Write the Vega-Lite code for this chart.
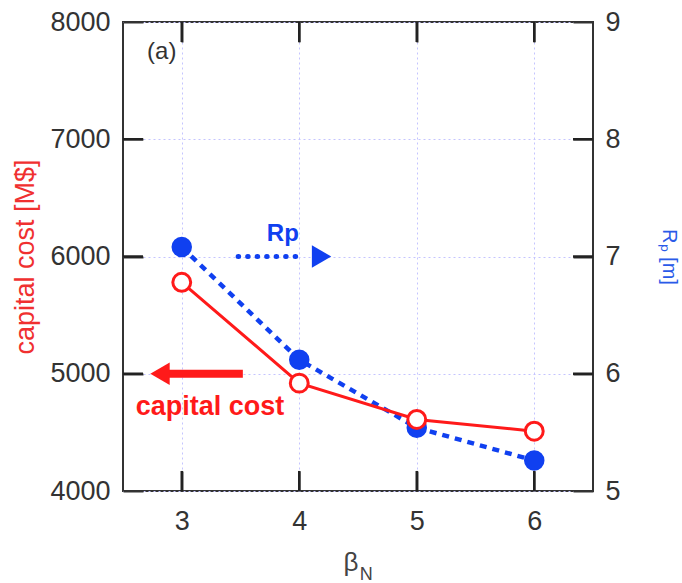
{
  "$schema": "https://vega.github.io/schema/vega-lite/v6.json",
  "width": 470,
  "height": 469,
  "autosize": {"type": "none"},
  "padding": {"left": 123, "top": 22, "right": 89, "bottom": 92},
  "background": "white",
  "data": {"values": [{}]},
  "config": {
    "font": "Liberation Sans",
    "view": {"stroke": "#333", "strokeWidth": 2},
    "axis": {
      "domain": false,
      "labelFont": "Liberation Sans",
      "labelFontSize": 27,
      "labelColor": "#333",
      "tickColor": "#333",
      "tickWidth": 2,
      "tickSize": -20,
      "gridColor": "#c4c4ff",
      "gridDash": [2, 3],
      "gridWidth": 1,
      "titleFont": "Liberation Sans",
      "titleFontWeight": "normal"
    }
  },
  "datasets": {
    "cost": [
      {"betaN": 3, "cost": 5780},
      {"betaN": 4, "cost": 4920},
      {"betaN": 5, "cost": 4610},
      {"betaN": 6, "cost": 4510}
    ],
    "rp": [
      {"betaN": 3, "rp": 7.08},
      {"betaN": 4, "rp": 6.12},
      {"betaN": 5, "rp": 5.54},
      {"betaN": 6, "rp": 5.26}
    ],
    "yticks": [
      {"cost": 5000},
      {"cost": 6000},
      {"cost": 7000}
    ]
  },
  "layer": [
    {
      "layer": [
        {
          "data": {"name": "rp"},
          "mark": {"type": "line", "color": "#1040f0", "strokeWidth": 4.5, "strokeDash": [7, 6]},
          "encoding": {
            "x": {"field": "betaN", "type": "quantitative", "scale": {"domain": [2.5, 6.5]},
              "axis": {"orient": "top", "values": [3, 4, 5, 6], "labels": false, "grid": false, "title": null}},
            "y": {"field": "rp", "type": "quantitative", "scale": {"domain": [5, 9]},
              "axis": {"orient": "right", "values": [5, 6, 7, 8, 9], "format": "d", "grid": false, "labelPadding": 32,
                "title": "Rₚ [m]", "titleColor": "#2a5ae8", "titleFontSize": 20, "titlePadding": 38}}
          }
        },
        {
          "data": {"name": "rp"},
          "mark": {"type": "circle", "color": "#1040f0", "size": 420, "opacity": 1},
          "encoding": {
            "x": {"field": "betaN", "type": "quantitative"},
            "y": {"field": "rp", "type": "quantitative"}
          }
        },
        {
          "mark": {"type": "rule", "color": "#1040f0", "strokeWidth": 5, "strokeDash": [0.5, 9], "strokeCap": "round"},
          "encoding": {
            "x": {"datum": 3.48, "type": "quantitative"},
            "x2": {"datum": 4.03},
            "y": {"datum": 7.0, "type": "quantitative"}
          }
        },
        {
          "mark": {"type": "point", "shape": "triangle-right", "filled": true, "color": "#1040f0", "size": 500, "opacity": 1},
          "encoding": {
            "x": {"datum": 4.19, "type": "quantitative"},
            "y": {"datum": 7.0, "type": "quantitative"}
          }
        },
        {
          "mark": {"type": "text", "text": "Rp", "fontSize": 24, "fontWeight": "bold", "color": "#1040f0", "align": "center", "baseline": "middle"},
          "encoding": {
            "x": {"datum": 3.86, "type": "quantitative"},
            "y": {"datum": 7.19, "type": "quantitative"}
          }
        }
      ]
    },
    {
      "layer": [
        {
          "data": {"name": "cost"},
          "mark": {"type": "line", "color": "#ff1a1a", "strokeWidth": 3},
          "encoding": {
            "x": {"field": "betaN", "type": "quantitative", "scale": {"domain": [2.5, 6.5]},
              "axis": {"orient": "bottom", "values": [3, 4, 5, 6], "format": "d", "grid": true, "title": null, "labelPadding": 37}},
            "y": {"field": "cost", "type": "quantitative", "scale": {"domain": [4000, 8000]},
              "axis": {"orient": "left", "values": [4000, 5000, 6000, 7000, 8000], "format": "d", "grid": true, "labelPadding": 33,
                "title": "capital cost [M$]", "titleColor": "#f03030", "titleFontSize": 27, "titlePadding": 10}}
          }
        },
        {
          "data": {"name": "cost"},
          "mark": {"type": "rule", "color": "#222", "strokeWidth": 2.5},
          "encoding": {
            "x": {"field": "betaN", "type": "quantitative"},
            "y": {"datum": 4000, "type": "quantitative"},
            "y2": {"datum": 4171}
          }
        },
        {
          "data": {"name": "cost"},
          "mark": {"type": "rule", "color": "#222", "strokeWidth": 2.5},
          "encoding": {
            "x": {"field": "betaN", "type": "quantitative"},
            "y": {"datum": 7829, "type": "quantitative"},
            "y2": {"datum": 8000}
          }
        },
        {
          "data": {"name": "yticks"},
          "mark": {"type": "rule", "color": "#222", "strokeWidth": 2.5},
          "encoding": {
            "y": {"field": "cost", "type": "quantitative"},
            "x": {"datum": 2.5, "type": "quantitative"},
            "x2": {"datum": 2.67}
          }
        },
        {
          "data": {"name": "yticks"},
          "mark": {"type": "rule", "color": "#222", "strokeWidth": 2.5},
          "encoding": {
            "y": {"field": "cost", "type": "quantitative"},
            "x": {"datum": 6.33, "type": "quantitative"},
            "x2": {"datum": 6.5}
          }
        },
        {
          "data": {"name": "cost"},
          "mark": {"type": "point", "shape": "circle", "filled": true, "fill": "white", "stroke": "#ff1a1a", "strokeWidth": 3, "size": 320, "opacity": 1},
          "encoding": {
            "x": {"field": "betaN", "type": "quantitative"},
            "y": {"field": "cost", "type": "quantitative"}
          }
        },
        {
          "mark": {"type": "rule", "color": "#ff1a1a", "strokeWidth": 8},
          "encoding": {
            "x": {"datum": 2.86, "type": "quantitative"},
            "x2": {"datum": 3.52},
            "y": {"datum": 5000, "type": "quantitative"}
          }
        },
        {
          "mark": {"type": "point", "shape": "triangle-left", "filled": true, "color": "#ff1a1a", "size": 500, "opacity": 1},
          "encoding": {
            "x": {"datum": 2.815, "type": "quantitative"},
            "y": {"datum": 5000, "type": "quantitative"}
          }
        },
        {
          "mark": {"type": "text", "text": "capital cost", "fontSize": 27, "fontWeight": "bold", "color": "#ff1a1a", "align": "center", "baseline": "middle"},
          "encoding": {
            "x": {"datum": 3.24, "type": "quantitative"},
            "y": {"datum": 4716, "type": "quantitative"}
          }
        },
        {
          "mark": {"type": "text", "text": "(a)", "fontSize": 24, "color": "#333", "align": "center", "baseline": "middle"},
          "encoding": {
            "x": {"datum": 2.83, "type": "quantitative"},
            "y": {"datum": 7744, "type": "quantitative"}
          }
        },
        {
          "mark": {"type": "text", "text": "β", "fontSize": 26, "color": "#444", "align": "center", "baseline": "middle"},
          "encoding": {
            "x": {"datum": 4.44, "type": "quantitative"},
            "y": {"datum": 3386, "type": "quantitative"}
          }
        },
        {
          "mark": {"type": "text", "text": "N", "fontSize": 18, "color": "#444", "align": "center", "baseline": "middle"},
          "encoding": {
            "x": {"datum": 4.57, "type": "quantitative"},
            "y": {"datum": 3284, "type": "quantitative"}
          }
        }
      ]
    }
  ],
  "resolve": {"scale": {"y": "independent"}, "axis": {"y": "independent", "x": "independent"}}
}
